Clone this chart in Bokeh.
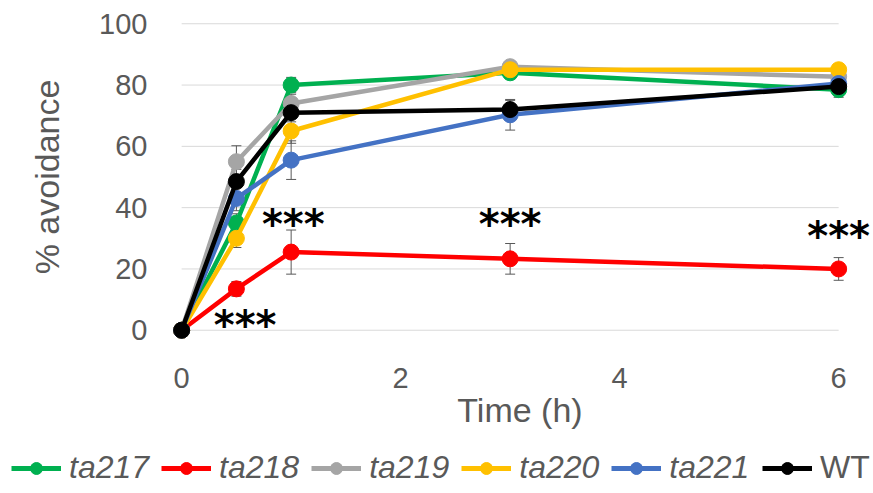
from bokeh.plotting import figure
from bokeh.models import Range1d, FixedTicker, Legend, LegendItem, ColumnDataSource
from bokeh.core.properties import value
from bokeh.embed import file_html
from bokeh.resources import INLINE

# ---- data ----
time = [0, 0.5, 1, 3, 6]
ta217 = [0, 35, 80, 84, 78.5]
ta217_err = [0, 3, 2.5, 2, 2.5]
ta218 = [0, 13.5, 25.5, 23.3, 20]
ta218_err = [0, 2.4, 7.2, 5, 3.7]
ta219 = [0, 55, 74, 86, 82.7]
ta219_err = [0, 5.2, 3, 1.5, 2]
ta220 = [0, 30, 65, 85, 85]
ta220_err = [0, 3, 4, 1.5, 1.5]
ta221 = [0, 43, 55.5, 70.3, 80.5]
ta221_err = [0, 4, 6.3, 5, 2]
wt = [0, 48.5, 71, 72, 79.5]
wt_err = [0, 4, 3, 3, 2]

series_names = ["ta217", "ta218", "ta219", "ta220", "ta221", "WT"]
series_vals = [ta217, ta218, ta219, ta220, ta221, wt]
series_errs = [ta217_err, ta218_err, ta219_err, ta220_err, ta221_err, wt_err]
colors = ["#00b050", "#ff0000", "#a5a5a5", "#ffc000", "#4472c4", "#000000"]

y_ticks = [0, 20, 40, 60, 80, 100]
x_ticks = [0, 2, 4, 6]

# significance annotations ("***" labels)
star_x = [0.58, 1.02, 3.0, 6.0]
star_y = [1.7, 34.8, 34.8, 30.6]
star_text = ["***", "***", "***", "***"]

FONT = "Liberation Sans"
GREY = "#595959"

p = figure(width=873, height=440, output_backend="svg", toolbar_location=None,
           x_range=Range1d(-0.12, 6.3), y_range=Range1d(-4, 104),
           min_border_left=168, min_border_right=2, min_border_top=11,
           min_border_bottom=98)
p.outline_line_color = None
p.xgrid.visible = False
p.ygrid.visible = False

# gridlines from first to last x tick
p.segment(x0=[x_ticks[0]] * len(y_ticks), x1=[x_ticks[-1]] * len(y_ticks),
          y0=y_ticks, y1=y_ticks, line_color="#d9d9d9", line_width=1)

for ax in (p.xaxis[0], p.yaxis[0]):
    ax.axis_line_color = None
    ax.major_tick_line_color = None
    ax.minor_tick_line_color = None
    ax.major_label_text_font = FONT
    ax.major_label_text_font_size = "29px"
    ax.major_label_text_color = GREY
    ax.axis_label_text_font = FONT
    ax.axis_label_text_font_size = "34px"
    ax.axis_label_text_color = GREY
    ax.axis_label_text_font_style = "normal"

p.xaxis.ticker = FixedTicker(ticks=x_ticks)
p.yaxis.ticker = FixedTicker(ticks=y_ticks)
p.xaxis.axis_label = "Time (h)"
p.yaxis.axis_label = "% avoidance"
p.xaxis.major_label_standoff = 19
p.yaxis.major_label_standoff = 15
p.xaxis.axis_label_standoff = 0
p.yaxis.axis_label_standoff = 30

# error bars (under markers)
for vals, errs in zip(series_vals, series_errs):
    xs = [t for t, e in zip(time, errs) if e > 0]
    lo = [v - e for v, e in zip(vals, errs) if e > 0]
    hi = [v + e for v, e in zip(vals, errs) if e > 0]
    p.segment(x0=xs, x1=xs, y0=lo, y1=hi, line_color=GREY, line_width=1)
    p.scatter(x=xs + xs, y=lo + hi, marker="dash", size=10, line_color=GREY, line_width=1)

for name, vals, col in zip(series_names, series_vals, colors):
    src = ColumnDataSource(dict(x=time, y=vals))
    p.line("x", "y", source=src, line_color=col, line_width=4.5)
    p.scatter("x", "y", source=src, size=16, fill_color=col, line_color=col)

p.text(x=star_x, y=star_y, text=star_text, text_font=value("DejaVu Sans"),
       text_font_size="40px", text_font_style="bold", text_align="center",
       text_baseline="alphabetic", text_color="black")

# ---- legend strip (separate root, frame covers whole canvas) ----
lg_fig = figure(width=873, height=50, output_backend="svg", toolbar_location=None,
                x_range=Range1d(0, 1), y_range=Range1d(0, 1),
                x_axis_location=None, y_axis_location=None,
                min_border=0, min_border_left=0, min_border_right=0,
                min_border_top=0, min_border_bottom=0)
lg_fig.outline_line_color = None
lg_fig.grid.visible = False

nan = float("nan")
items_italic = []
items_plain = []
for name, col in zip(series_names, colors):
    proxy = ColumnDataSource(dict(x=[nan], y=[nan]))
    lr = lg_fig.line("x", "y", source=proxy, line_color=col, line_width=5)
    sr = lg_fig.scatter("x", "y", source=proxy, size=11, fill_color=col, line_color=col)
    item = LegendItem(label=name, renderers=[lr, sr])
    (items_plain if name == "WT" else items_italic).append(item)

def make_legend(items, loc, style):
    return Legend(items=items, location=loc, orientation="horizontal",
                  label_text_font=FONT, label_text_font_size="32px",
                  label_text_font_style=style, label_text_color=GREY,
                  glyph_width=50, glyph_height=30, label_standoff=8, spacing=12,
                  padding=0, margin=0, border_line_color=None,
                  background_fill_alpha=0)

lg_fig.add_layout(make_legend(items_italic, (11, 4), "italic"), "center")
lg_fig.add_layout(make_legend(items_plain, (762, 4), "normal"), "center")

open("out.html", "w").write(file_html([p, lg_fig], INLINE))
